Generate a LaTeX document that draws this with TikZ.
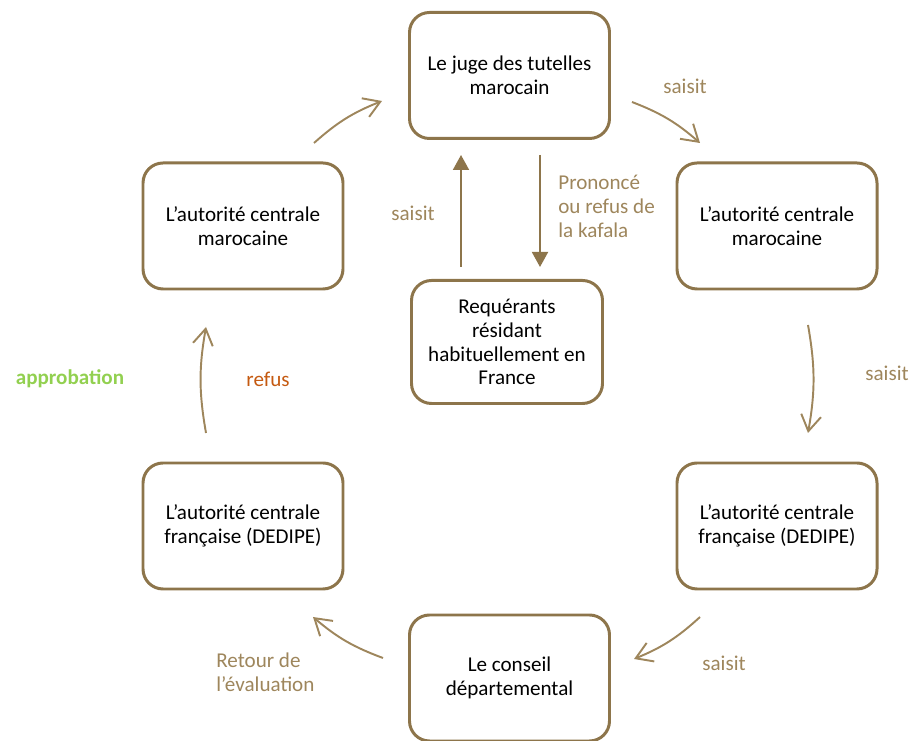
\documentclass[tikz,border=0pt]{standalone}
\usepackage{fontspec}
\setmainfont{Carlito}
\usepackage{tikz}
\definecolor{white}{rgb}{1.0, 1.0, 1.0}
\definecolor{black}{rgb}{0.0, 0.0, 0.0}
\definecolor{brun}{RGB}{141, 117, 75}
\definecolor{lbrun}{RGB}{158, 134, 92}
\definecolor{lgr}{RGB}{146, 208, 80}
\definecolor{orng}{RGB}{197, 90, 17}
\usetikzlibrary{arrows.meta}
\pgfdeclarelayer{edgelayer}
\pgfdeclarelayer{nodelayer}
\pgfsetlayers{edgelayer,nodelayer,main}
\tikzstyle{boite}=[rectangle,rounded corners=0.4cm,fill=white,draw=brun,line width=1.7pt,minimum width=4cm,minimum height=2.52cm,align=center,font=\fontsize{12}{13.6}\selectfont]
\tikzstyle{etiq}=[text=lbrun,inner sep=0pt,font=\fontsize{12}{13.6}\selectfont]
\tikzstyle{fleche}=[-{Straight Barb[length=3.2mm,width=4mm]},draw=lbrun,line width=1.1pt]
\tikzstyle{pleine}=[-{Triangle[length=3mm,width=3.2mm]},draw=brun,line width=1.1pt]

\begin{document}
\begin{tikzpicture}
        \useasboundingbox (0, 0) rectangle (18.18, -14.82);
        \begin{pgfonlayer}{nodelayer}
            \node [style = boite] (juge) at (10.19, -1.51) {Le juge des tutelles\\marocain};
            \node [style = boite] (acmd) at (15.54, -4.52) {L’autorité centrale\\marocaine};
            \node [style = boite] (acmg) at (4.86, -4.52) {L’autorité centrale\\marocaine};
            \node [style = boite, minimum width=3.82cm, minimum height=2.46cm] (req) at (10.14, -6.84) {Requérants\\résidant\\habituellement en\\France};
            \node [style = boite] (acfd) at (15.54, -10.52) {L’autorité centrale\\française (DEDIPE)};
            \node [style = boite] (acfg) at (4.86, -10.52) {L’autorité centrale\\française (DEDIPE)};
            \node [style = boite] (cons) at (10.19, -13.56) {Le conseil\\départemental};

            \node [style = etiq] (l1) at (13.7, -1.72) {saisit};
            \node [style = etiq] (l2) at (17.74, -7.46) {saisit};
            \node [style = etiq] (l3) at (14.48, -13.26) {saisit};
            \node [style = etiq, align=left, anchor=west] (l4) at (4.32, -13.44) {Retour de\\l’évaluation};
            \node [style = etiq, text=lgr, font=\fontsize{12}{13.6}\selectfont\bfseries] (l5) at (1.4, -7.58) {approbation};
            \node [style = etiq, text=orng] (l6) at (5.36, -7.58) {refus};
            \node [style = etiq] (l7) at (8.26, -4.26) {saisit};
            \node [style = etiq, align=left, anchor=west] (l8) at (11.16, -4.12) {Prononcé\\ou refus de\\la kafala};
        \end{pgfonlayer}

        \coordinate (a1) at (6.28, -2.86);
        \coordinate (b1) at (7.64, -2.02);
        \coordinate (a2) at (12.64, -2.04);
        \coordinate (b2) at (14.0, -2.86);
        \coordinate (a3) at (16.16, -6.5);
        \coordinate (b3) at (16.16, -8.66);
        \coordinate (a4) at (14.0, -12.34);
        \coordinate (b4) at (12.68, -13.18);
        \coordinate (a5) at (7.66, -13.16);
        \coordinate (b5) at (6.26, -12.34);
        \coordinate (a6) at (4.12, -8.66);
        \coordinate (b6) at (4.12, -6.54);
        \coordinate (up1) at (9.22, -5.34);
        \coordinate (up2) at (9.22, -3.1);
        \coordinate (dn1) at (10.8, -3.1);
        \coordinate (dn2) at (10.8, -5.34);

        \begin{pgfonlayer}{edgelayer}
            \draw [style = fleche] (a1) to [bend left=10] (b1);
            \draw [style = fleche] (a2) to [bend left=10] (b2);
            \draw [style = fleche] (a3) to [bend left=10] (b3);
            \draw [style = fleche] (a4) to [bend left=10] (b4);
            \draw [style = fleche] (a5) to [bend left=10] (b5);
            \draw [style = fleche] (a6) to [bend left=10] (b6);
            \draw [style = pleine] (up1) to (up2);
            \draw [style = pleine] (dn1) to (dn2);
        \end{pgfonlayer}
    \end{tikzpicture}
\end{document}
